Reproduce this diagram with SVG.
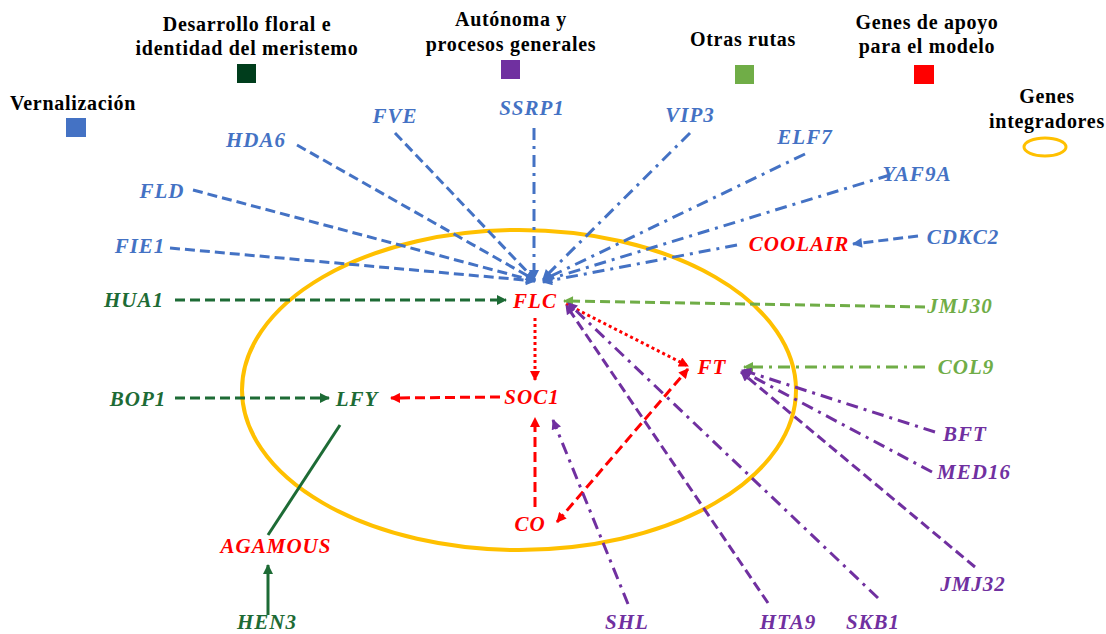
<svg xmlns="http://www.w3.org/2000/svg" width="1106" height="634" viewBox="0 0 1106 634">
  <style>
    .leg{font-family:'Liberation Serif','DejaVu Serif',serif;font-weight:bold;font-size:20px;fill:#000;text-anchor:middle;letter-spacing:0.7px}
    .g{font-family:'Liberation Serif','DejaVu Serif',serif;font-weight:bold;font-style:italic;font-size:21px;text-anchor:middle;letter-spacing:1px}
    .tb{fill:#4472C4}.tr{fill:#FF0000}.tg{fill:#70AD47}.td{fill:#1D6B35}.tp{fill:#7030A0}
    .ln{fill:none;stroke-width:3}
    .b{stroke:#4472C4}.r{stroke:#FF0000}.gr{stroke:#70AD47}.d{stroke:#1D6B35}.p{stroke:#7030A0}
    .dash{stroke-dasharray:10 5}
    .dd{stroke-dasharray:12 6 3 6}
    .dot{stroke-dasharray:3 3}
  </style>
  <defs>
    <marker id="ab" viewBox="0 0 10 10" refX="9" refY="5" markerWidth="11" markerHeight="10" markerUnits="userSpaceOnUse" orient="auto"><path d="M0,0 L10,5 L0,10 z" fill="#4472C4"/></marker>
    <marker id="ar" viewBox="0 0 10 10" refX="9" refY="5" markerWidth="11" markerHeight="10" markerUnits="userSpaceOnUse" orient="auto-start-reverse"><path d="M0,0 L10,5 L0,10 z" fill="#FF0000"/></marker>
    <marker id="ag" viewBox="0 0 10 10" refX="9" refY="5" markerWidth="11" markerHeight="10" markerUnits="userSpaceOnUse" orient="auto"><path d="M0,0 L10,5 L0,10 z" fill="#70AD47"/></marker>
    <marker id="ad" viewBox="0 0 10 10" refX="9" refY="5" markerWidth="11" markerHeight="10" markerUnits="userSpaceOnUse" orient="auto"><path d="M0,0 L10,5 L0,10 z" fill="#1D6B35"/></marker>
    <marker id="ap" viewBox="0 0 10 10" refX="9" refY="5" markerWidth="11" markerHeight="10" markerUnits="userSpaceOnUse" orient="auto"><path d="M0,0 L10,5 L0,10 z" fill="#7030A0"/></marker>
  </defs>

  <!-- legend -->
  <g id="legend">
    <text class="leg" x="73" y="110">Vernalización</text>
    <rect x="66" y="118" width="20" height="19" fill="#4472C4"/>
    <text class="leg" x="247" y="31">Desarrollo floral e</text>
    <text class="leg" x="247" y="55">identidad del meristemo</text>
    <rect x="237" y="64" width="19" height="19" fill="#003D1C"/>
    <text class="leg" x="511" y="26">Autónoma y</text>
    <text class="leg" x="511" y="51">procesos generales</text>
    <rect x="501" y="60" width="19" height="19" fill="#7030A0"/>
    <text class="leg" x="743" y="46">Otras rutas</text>
    <rect x="735" y="65" width="19" height="19" fill="#70AD47"/>
    <text class="leg" x="927" y="29">Genes de apoyo</text>
    <text class="leg" x="927" y="53">para el modelo</text>
    <rect x="914" y="65" width="20" height="19" fill="#FF0000"/>
    <text class="leg" x="1047" y="103">Genes</text>
    <text class="leg" x="1047" y="128">integradores</text>
    <ellipse cx="1045" cy="147" rx="21" ry="9" fill="none" stroke="#FFC000" stroke-width="3"/>
  </g>

  <!-- integrator genes region -->
  <ellipse id="integradores" cx="519" cy="390" rx="277" ry="160" fill="none" stroke="#FFC000" stroke-width="4"/>

  <!-- connectors -->
  <g id="connectors">
    <!-- vernalization genes to FLC -->
    <line class="ln b dash" x1="297" y1="145" x2="535" y2="280" marker-end="url(#ab)"/>
    <line class="ln b dash" x1="395" y1="133" x2="535" y2="280" marker-end="url(#ab)"/>
    <line class="ln b dd" x1="534" y1="128" x2="534" y2="279" marker-end="url(#ab)"/>
    <line class="ln b dash" x1="193" y1="190" x2="535" y2="281" marker-end="url(#ab)"/>
    <line class="ln b dash" x1="170" y1="248" x2="535" y2="281" marker-end="url(#ab)"/>
    <line class="ln b dd" x1="690" y1="133" x2="543" y2="279" marker-end="url(#ab)"/>
    <line class="ln b dd" x1="805" y1="154" x2="543" y2="280" marker-end="url(#ab)"/>
    <line class="ln b dd" x1="890" y1="175" x2="543" y2="281" marker-end="url(#ab)"/>
    <line class="ln b dd" x1="737" y1="245" x2="543" y2="282" marker-end="url(#ab)"/>
    <line class="ln b dash" x1="918" y1="236" x2="853" y2="244" marker-end="url(#ab)"/>
    <!-- other pathways -->
    <line class="ln gr dash" x1="925" y1="307" x2="564" y2="301" marker-end="url(#ag)"/>
    <line class="ln gr dd" x1="925" y1="367" x2="744" y2="367" marker-end="url(#ag)"/>
    <!-- floral development -->
    <line class="ln d dash" x1="175" y1="300" x2="506" y2="300" marker-end="url(#ad)"/>
    <line class="ln d dash" x1="175" y1="398" x2="329" y2="398" marker-end="url(#ad)"/>
    <line class="ln d" x1="340" y1="425" x2="268" y2="535"/>
    <line class="ln d" x1="268" y1="615" x2="268" y2="565" marker-end="url(#ad)"/>
    <!-- support genes -->
    <line class="ln r dot" x1="535" y1="318" x2="535" y2="380" marker-end="url(#ar)"/>
    <line class="ln r dot" x1="566" y1="304" x2="688" y2="366" marker-end="url(#ar)"/>
    <line class="ln r dash" x1="500" y1="397" x2="391" y2="398" marker-end="url(#ar)"/>
    <line class="ln r dash" x1="535" y1="507" x2="535" y2="418" marker-end="url(#ar)"/>
    <line class="ln r dash" x1="557" y1="522" x2="688" y2="369" marker-start="url(#ar)" marker-end="url(#ar)"/>
    <!-- autonomous pathway -->
    <line class="ln p dd" x1="628" y1="604" x2="553" y2="420" marker-end="url(#ap)"/>
    <line class="ln p dash" x1="768" y1="603" x2="566" y2="305" marker-end="url(#ap)"/>
    <line class="ln p dd" x1="878" y1="598" x2="568" y2="303" marker-end="url(#ap)"/>
    <line class="ln p dd" x1="935" y1="432" x2="742" y2="370" marker-end="url(#ap)"/>
    <line class="ln p dd" x1="932" y1="472" x2="742" y2="371" marker-end="url(#ap)"/>
    <line class="ln p dash" x1="975" y1="567" x2="741" y2="372" marker-end="url(#ap)"/>
  </g>

  <!-- genes -->
  <g id="HDA6"><text class="g tb" x="256" y="147">HDA6</text></g>
  <g id="FVE"><text class="g tb" x="395" y="123">FVE</text></g>
  <g id="SSRP1"><text class="g tb" x="532" y="115">SSRP1</text></g>
  <g id="VIP3"><text class="g tb" x="690" y="122">VIP3</text></g>
  <g id="ELF7"><text class="g tb" x="805" y="144">ELF7</text></g>
  <g id="YAF9A"><text class="g tb" x="917" y="181">YAF9A</text></g>
  <g id="FLD"><text class="g tb" x="162" y="198">FLD</text></g>
  <g id="FIE1"><text class="g tb" x="140" y="253">FIE1</text></g>
  <g id="CDKC2"><text class="g tb" x="963" y="244">CDKC2</text></g>
  <g id="COOLAIR"><text class="g tr" x="799" y="251">COOLAIR</text></g>
  <g id="HUA1"><text class="g td" x="134" y="307">HUA1</text></g>
  <g id="FLC"><text class="g tr" x="535" y="308">FLC</text></g>
  <g id="JMJ30"><text class="g tg" x="960" y="313">JMJ30</text></g>
  <g id="FT"><text class="g tr" x="712" y="374">FT</text></g>
  <g id="COL9"><text class="g tg" x="966" y="374">COL9</text></g>
  <g id="BOP1"><text class="g td" x="138" y="406">BOP1</text></g>
  <g id="LFY"><text class="g td" x="357" y="406">LFY</text></g>
  <g id="SOC1"><text class="g tr" x="532" y="404">SOC1</text></g>
  <g id="BFT"><text class="g tp" x="965" y="441">BFT</text></g>
  <g id="MED16"><text class="g tp" x="974" y="479">MED16</text></g>
  <g id="CO"><text class="g tr" x="530" y="531">CO</text></g>
  <g id="AGAMOUS"><text class="g tr" x="276" y="553">AGAMOUS</text></g>
  <g id="JMJ32"><text class="g tp" x="973" y="591">JMJ32</text></g>
  <g id="HEN3"><text class="g td" x="267" y="629">HEN3</text></g>
  <g id="SHL"><text class="g tp" x="627" y="629">SHL</text></g>
  <g id="HTA9"><text class="g tp" x="788" y="629">HTA9</text></g>
  <g id="SKB1"><text class="g tp" x="873" y="629">SKB1</text></g>
</svg>
